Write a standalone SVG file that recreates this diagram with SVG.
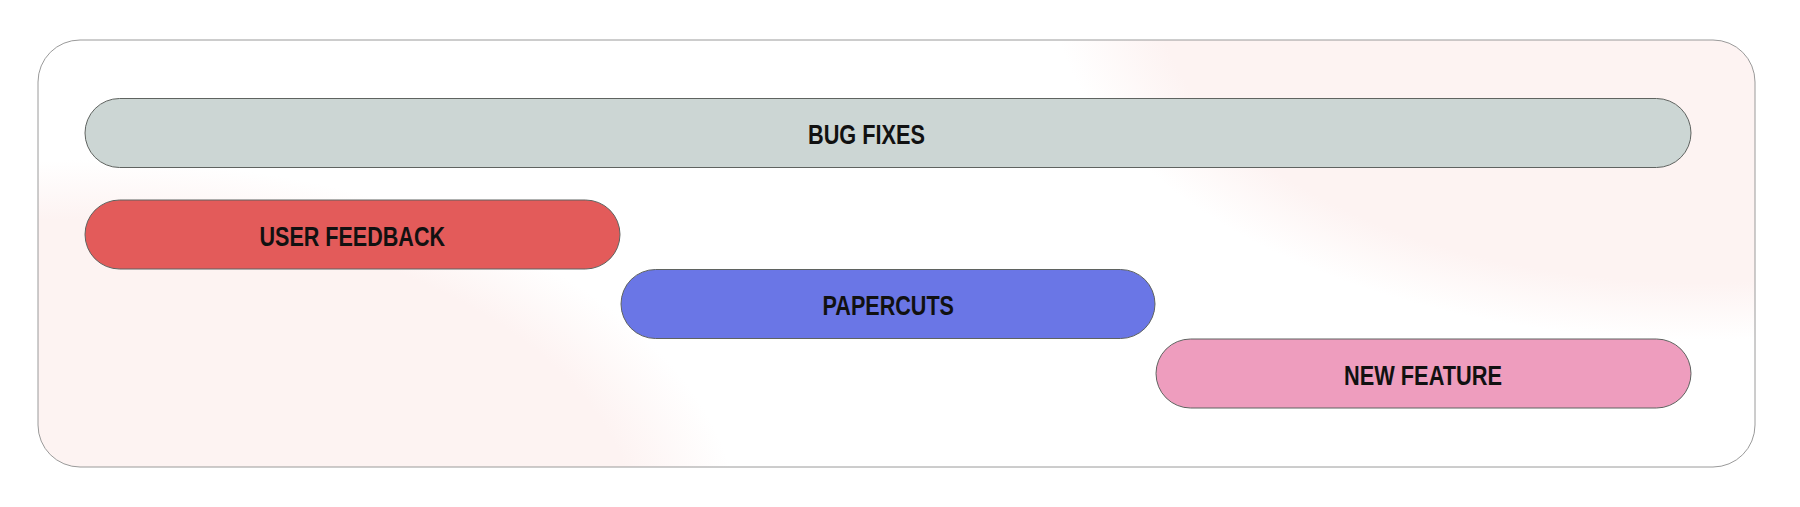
<svg xmlns="http://www.w3.org/2000/svg" width="1800" height="507" viewBox="0 0 1800 507">
  <style>
    .pill { stroke: #5f6360; stroke-width: 1; }
    .label { font-family: "Liberation Sans", Arial, sans-serif; font-weight: bold; font-size: 27.5px; fill: #111111; }
  </style>
  <defs>
    <clipPath id="frameClip">
      <rect x="38" y="40" width="1717" height="427" rx="42" ry="42"/>
    </clipPath>
    <radialGradient id="glowTR" gradientUnits="userSpaceOnUse" cx="0" cy="0" r="1" gradientTransform="translate(1700 -20) scale(650 360)">
      <stop offset="0" stop-color="#fdf3f2"/>
      <stop offset="0.84" stop-color="#fdf3f2"/>
      <stop offset="1" stop-color="#fdf3f2" stop-opacity="0"/>
    </radialGradient>
    <radialGradient id="glowBL" gradientUnits="userSpaceOnUse" cx="0" cy="0" r="1" gradientTransform="translate(90 530) scale(650 370)">
      <stop offset="0" stop-color="#fdf3f2"/>
      <stop offset="0.84" stop-color="#fdf3f2"/>
      <stop offset="1" stop-color="#fdf3f2" stop-opacity="0"/>
    </radialGradient>
  </defs>
  <rect width="1800" height="507" fill="#ffffff"/>
  <g id="frame">
    <rect x="38" y="40" width="1717" height="427" rx="42" ry="42" fill="#ffffff"/>
    <g clip-path="url(#frameClip)">
      <rect x="38" y="40" width="1717" height="427" fill="url(#glowTR)"/>
      <rect x="38" y="40" width="1717" height="427" fill="url(#glowBL)"/>
    </g>
    <rect x="38" y="40" width="1717" height="427" rx="42" ry="42" fill="none" stroke="#9a9a9a" stroke-width="1"/>
  </g>
  <g id="connectors"></g>
  <g id="bug-fixes">
    <rect class="pill" x="85" y="98.5" width="1606" height="69" rx="34.5" fill="#ccd6d4"/>
    <text class="label" x="808" y="144" textLength="117" lengthAdjust="spacingAndGlyphs">BUG FIXES</text>
  </g>
  <g id="user-feedback">
    <rect class="pill" x="85" y="200" width="535" height="69" rx="34.5" fill="#e35b5a"/>
    <text class="label" x="259.5" y="245.5" textLength="185.5" lengthAdjust="spacingAndGlyphs">USER FEEDBACK</text>
  </g>
  <g id="papercuts">
    <rect class="pill" x="621" y="269.5" width="534" height="69" rx="34.5" fill="#6a76e6"/>
    <text class="label" x="822.5" y="315" textLength="131.5" lengthAdjust="spacingAndGlyphs">PAPERCUTS</text>
  </g>
  <g id="new-feature">
    <rect class="pill" x="1156" y="339" width="535" height="69" rx="34.5" fill="#ee9dbe"/>
    <text class="label" x="1344" y="385" textLength="158" lengthAdjust="spacingAndGlyphs">NEW FEATURE</text>
  </g>
</svg>
